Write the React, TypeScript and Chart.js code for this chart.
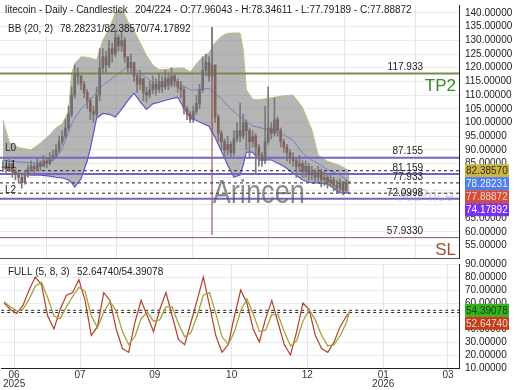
import React, { useEffect, useRef } from "react";
import { Chart, registerables } from "chart.js";

Chart.register(...registerables);

const FONT = '"Liberation Sans", Arial, sans-serif';

// ---- candles (2-day steps) ----
const firstOpen = 83.5;
const closes = [
  84, 83, 85, 82, 81, 80, 78, 81, 83, 84,
  83, 85, 84, 86, 85, 87, 88, 90, 93, 95,
  98, 103, 110, 118, 117, 114, 111, 108, 104, 103,
  110, 120, 124, 121, 127, 125, 131, 128, 130, 124,
  120, 122, 117, 114, 116, 111, 110, 112, 114, 112,
  115, 113, 116, 114, 117, 115, 113, 112, 105, 103,
  101, 104, 107, 112, 119, 122, 117, 121, 102, 96,
  93, 90, 92, 89, 94, 97, 95, 100, 97, 93,
  95, 91, 88, 86, 93, 98, 96, 101, 97, 93,
  91, 89, 87, 86, 84, 85, 82, 84, 81, 82,
  80, 82, 79, 80, 78, 79, 77, 76, 78, 75,
  77.96, 77.89,
];
const highs = [
  86, 85, 86.5, 85, 83, 82, 81, 82.5, 84.5, 86,
  85, 87, 86, 88, 87, 89, 90, 92, 95, 97,
  101, 106, 113, 121, 120, 117, 115, 112, 109, 106,
  113, 127, 127, 126, 130, 129, 134, 132, 133, 131,
  124, 125, 122, 118, 119, 116, 113, 115, 117, 116,
  118, 117, 119, 118, 120, 118, 116, 115, 113, 106,
  104, 106, 110, 114, 124, 125, 124, 134.5, 121, 103,
  97, 94, 95, 93, 97, 100, 107, 103, 101, 98,
  97, 96, 92, 89, 106, 113, 100, 109, 102, 98,
  94, 92, 90, 89, 87, 88, 86, 86, 85, 84,
  83, 84, 83, 82, 81, 81, 80, 79, 79.5, 78.5,
  79, 78.35,
];
const lows = [
  82, 81, 82, 80, 79, 78, 76, 77.5, 80, 82,
  81.5, 82.5, 82.5, 84, 83.5, 84.5, 86, 87.5, 89, 92,
  94, 97, 102, 109, 114, 112, 109, 105, 101, 100,
  102, 108, 118, 118, 120, 122, 124, 126, 126, 122,
  118, 118, 115, 111, 112, 108, 107.5, 109, 110.5, 110,
  111, 111, 112, 112, 113, 113, 111, 109, 103, 101,
  100, 100, 103, 105, 111, 117, 115, 116, 100, 93,
  90, 87, 88, 87, 88, 93, 93, 94, 90, 87,
  91, 81, 84, 84, 85, 92, 94, 95, 95, 91,
  89, 86, 85, 84, 80, 82, 80, 80, 79, 79,
  78, 78.5, 76.5, 77, 76, 76.5, 75, 74, 75, 73.5,
  75, 77.79,
];

// ---- Bollinger bands ----
const bbX = [0, 2, 5, 9, 12, 15, 17, 19, 21, 22, 23, 25, 27, 28, 30, 32, 34, 36, 38, 40, 42, 44, 46, 48, 50, 53, 56, 58, 60, 63, 66, 68, 70, 72, 74, 76, 77, 78, 80, 82, 86, 90, 93, 96, 99, 101, 104, 108, 111];
const bbUpper = [100.9, 92.8, 90.8, 90.0, 92.5, 95.5, 98.0, 99.5, 104.0, 118.0, 121.5, 124.0, 123.8, 123.6, 122.8, 130.0, 134.3, 140.0, 141.8, 137.0, 133.5, 129.0, 124.5, 121.0, 119.3, 119.5, 119.9, 119.9, 118.4, 122.8, 125.5, 129.2, 131.5, 132.6, 132.7, 132.7, 126.5, 112.0, 108.5, 108.3, 109.0, 109.8, 110.0, 105.5, 97.3, 88.1, 85.8, 84.3, 82.39];
const bbMid = [86.3, 85.9, 85.6, 85.3, 85.2, 85.6, 87.0, 90.5, 96.5, 99.5, 101.5, 105.0, 107.2, 108.4, 111.0, 113.6, 115.3, 117.0, 118.8, 120.2, 119.8, 118.0, 116.2, 114.8, 113.1, 113.6, 114.3, 113.2, 111.9, 111.9, 112.5, 110.5, 108.8, 106.0, 104.0, 102.0, 101.2, 100.3, 98.8, 98.2, 97.2, 95.5, 93.5, 88.8, 86.2, 85.0, 82.8, 80.8, 78.28];
const bbLower = [83.7, 82.6, 81.0, 80.8, 80.8, 80.4, 80.0, 79.8, 79.0, 78.0, 76.4, 79.5, 86.0, 90.5, 101.5, 103.3, 103.0, 102.0, 104.8, 108.0, 110.7, 107.5, 104.8, 106.8, 107.4, 108.4, 109.2, 105.2, 101.8, 100.2, 98.6, 94.5, 89.5, 84.5, 80.1, 80.8, 84.5, 89.2, 89.2, 86.3, 86.3, 84.0, 81.5, 79.0, 77.9, 77.9, 77.5, 74.4, 74.18];

// ---- Stochastic (FULL 5,8,3) ----
const stochX = [0, 2, 4, 6, 8, 10, 12, 14, 16, 18, 20, 22, 24, 26, 28, 30, 32, 34, 36, 38, 40, 42, 44, 46, 48, 50, 52, 54, 56, 58, 60, 62, 64, 66, 68, 70, 72, 74, 76, 78, 80, 82, 84, 86, 88, 90, 92, 94, 96, 98, 100, 102, 104, 106, 108, 110, 111];
const stochK = [60, 55, 52, 58, 70, 80, 74, 50, 40, 55, 66, 68, 78, 62, 35, 42, 68, 62, 40, 25, 22, 45, 62, 50, 38, 55, 68, 50, 32, 28, 45, 62, 80, 58, 35, 22, 28, 50, 70, 60, 40, 30, 48, 62, 45, 28, 20, 38, 60, 55, 35, 25, 22, 30, 42, 50, 52.65];
const stochD = [61, 57, 54, 55, 63, 73, 76, 64, 50, 48, 57, 65, 72, 69, 50, 41, 53, 61, 54, 38, 28, 34, 48, 53, 46, 47, 57, 57, 44, 34, 37, 50, 66, 68, 52, 34, 28, 38, 54, 63, 52, 38, 39, 51, 51, 38, 27, 31, 46, 55, 47, 35, 27, 28, 35, 45, 54.39];

// ---- axes ----
const X_MIN = -0.96;
const X_MAX = 146.15;
const xTickPos = [3.2, 24.4, 48.4, 73.1, 97.4, 121.8, 142.6];
const xTickLabels = [["06", "2025"], ["07"], ["09"], ["10"], ["12"], ["01", "2026"], ["03"]];
const yTicksMain = [140, 135, 130, 125, 120, 115, 110, 105, 100, 95, 90, 85, 80, 75, 70, 65, 60, 55];
const yTicksStoch = [90, 80, 70, 60, 50, 40, 30, 20, 10];

// ---- levels ----
const levelValues = [117.933, 87.155, 81.159, 77.933, 72.0998, 57.933];
const levelLabels = ["117.933", "87.155", "81.159", "77.933", "72.0998", "57.9330"];
const levelNames = ["", "L0", "L1", "", "L2", ""];
const levelColors = ["#7d8a4e", "#7464c4", "#7464c4", "", "#7464c4", "#8c5a5a"];
const dashedMain = [82.3857, 77.933, 74.17892];
const markerIndex = 67;
const markerRange = [58.9, 135];

const priceTags = [82.3857, 78.28231, 77.88872, 74.17892];
const priceTagText = ["82.38570", "78.28231", "77.88872", "74.17892"];
const priceTagBg = ["#c9b44a", "#4d7ef0", "#d24d3c", "#7a30f0"];
const priceTagFg = ["#3a3010", "#e8f0ff", "#f6d0cc", "#ffffff"];
const stochTags = [54.39078, 52.6474];
const stochTagText = ["54.39078", "52.64740"];
const stochTagBg = ["#34b41e", "#c2401e"];
const stochTagFg = ["#16380c", "#f8d4c4"];

const titleA = "litecoin - Daily - Candlestick";
const titleB = "204/224 - O:77.96043 - H:78.34611 - L:77.79189 - C:77.88872";
const bbTextA = "BB (20, 2)";
const bbTextB = "78.28231/82.38570/74.17892";
const stTextA = "FULL (5, 8, 3)";
const stTextB = "52.64740/54.39078";

function drawTags(ctx: CanvasRenderingContext2D, chart: any, values: number[], texts: string[], bg: string[], fg: string[]) {
  const y = chart.scales.y;
  const x0 = chart.chartArea.right + 6;
  let prev = -1e9;
  ctx.font = "10px " + FONT;
  ctx.textBaseline = "middle";
  ctx.textAlign = "left";
  values.forEach((v, i) => {
    let cy = y.getPixelForValue(v);
    if (cy < prev + 13) cy = prev + 13;
    prev = cy;
    ctx.fillStyle = bg[i];
    ctx.fillRect(x0, cy - 6.5, 44, 13);
    ctx.fillStyle = fg[i];
    ctx.fillText(texts[i], x0 + 1, cy + 0.5);
  });
}

const yAxisCommon = {
  position: "right",
  afterFit: (s: any) => { s.width = 61; },
  ticks: {
    autoSkip: false,
    font: { size: 10, family: FONT, lineHeight: 1 }, color: "#222", padding: 0,
    callback: (v: any) => Number(v).toFixed(5),
  },
  grid: { color: "#ebebeb", drawTicks: true, tickLength: 6, tickColor: "rgba(0,0,0,0)" },
  border: { display: true, color: "#222" },
};

export default function App() {
  const mainRef = useRef<HTMLCanvasElement>(null);
  const stochRef = useRef<HTMLCanvasElement>(null);

  useEffect(() => {
    const opens = closes.map((c, i) => (i === 0 ? firstOpen : closes[i - 1]));
    const bodyColors = closes.map((c, i) => (c >= opens[i] ? "#6e6e6e" : "#86605c"));
    const pts = (xs: number[], ys: number[]) => xs.map((x, i) => ({ x, y: ys[i] }));
    const hLine = (v: number) => [{ x: X_MIN, y: v }, { x: X_MAX, y: v }];

    const levelSets: any[] = [];
    levelValues.forEach((v, i) => {
      if (!levelColors[i]) return;
      levelSets.push({
        type: "line", data: hLine(v), borderColor: levelColors[i],
        borderWidth: i === 5 ? 1 : 2, pointRadius: 0, fill: false, order: 3,
      });
    });
    dashedMain.forEach((v) => {
      levelSets.push({
        type: "line", data: hLine(v), borderColor: "#222", borderWidth: 1,
        borderDash: [3, 3], pointRadius: 0, fill: false, order: 3,
      });
    });

    const mainPlugin = {
      id: "mainText",
      afterDatasetsDraw(chart: any) {
        const { ctx } = chart;
        ctx.save();
        ctx.font = "34px " + FONT;
        ctx.fillStyle = "rgba(95,95,95,0.72)";
        ctx.textBaseline = "alphabetic";
        ctx.textAlign = "left";
        ctx.translate(chart.scales.x.getPixelForValue(67.2), 203);
        ctx.scale(0.8, 1);
        ctx.fillText("Arincen", 0, 0);
        ctx.restore();
        ctx.save();
        ctx.font = "16px " + FONT;
        ctx.fillStyle = "rgba(150,160,190,0.45)";
        ctx.textAlign = "right";
        ctx.textBaseline = "alphabetic";
        ctx.fillText("AltPrice", chart.chartArea.right - 5, 201);
        ctx.restore();
      },
      afterDraw(chart: any) {
        const { ctx, chartArea } = chart;
        const y = chart.scales.y;
        ctx.save();
        ctx.font = "10px " + FONT;
        ctx.fillStyle = "#222";
        ctx.textBaseline = "middle";
        ctx.textAlign = "left";
        ctx.fillText(titleA, 5, 10);
        ctx.fillText(titleB, 135, 10);
        ctx.fillText(bbTextA, 8, 29);
        ctx.fillText(bbTextB, 60, 29);

        levelValues.forEach((v, i) => {
          const py = y.getPixelForValue(v);
          ctx.font = "10px " + FONT;
          ctx.fillStyle = "#222";
          ctx.textAlign = "right";
          ctx.fillText(levelLabels[i], chartArea.right - 36, py - 6);
          if (levelNames[i]) {
            ctx.textAlign = "left";
            ctx.fillText(levelNames[i], 5, py - 9);
          }
        });
        ctx.font = "17px " + FONT;
        ctx.textAlign = "right";
        ctx.fillStyle = "#3a8a2a";
        ctx.fillText("TP2", chartArea.right - 3, y.getPixelForValue(levelValues[0]) + 13);
        ctx.fillStyle = "#a0503a";
        ctx.fillText("SL", chartArea.right - 3, y.getPixelForValue(levelValues[5]) + 13);

        drawTags(ctx, chart, priceTags, priceTagText, priceTagBg, priceTagFg);
        ctx.restore();
      },
    };

    const main = new Chart(mainRef.current as HTMLCanvasElement, {
      type: "bar",
      data: {
        datasets: [
          {
            type: "bar", data: closes.map((c, i) => ({ x: i, y: [opens[i], c] })) as any,
            backgroundColor: bodyColors, barThickness: 2, grouped: false, minBarLength: 1, order: 1,
          },
          {
            type: "bar", data: closes.map((c, i) => ({ x: i, y: [lows[i], highs[i]] })) as any,
            backgroundColor: "#7a7a7a", barThickness: 1, grouped: false, order: 2,
          },
          {
            type: "line", data: pts(bbX, bbUpper), borderColor: "#c4bc78", borderWidth: 1,
            pointRadius: 0, fill: "+1", backgroundColor: "rgba(120,120,120,0.55)", order: 11,
          },
          {
            type: "line", data: pts(bbX, bbLower), borderColor: "#6a4fd0", borderWidth: 1.2,
            pointRadius: 0, fill: false, order: 10,
          },
          {
            type: "line", data: pts(bbX, bbMid), borderColor: "#6f7fd0", borderWidth: 1,
            pointRadius: 0, fill: false, order: 9,
          },
          ...levelSets,
          {
            type: "line", data: [{ x: markerIndex, y: markerRange[0] }, { x: markerIndex, y: markerRange[1] }],
            borderColor: "#8b3a3a", borderWidth: 1, pointRadius: 0, fill: false, order: 4,
          },
        ] as any,
      },
      options: {
        responsive: false,
        animation: false,
        devicePixelRatio: 1,
        events: [],
        layout: { padding: 0 },
        plugins: { legend: { display: false }, tooltip: { enabled: false } },
        scales: {
          x: {
            type: "linear", min: X_MIN, max: X_MAX, offset: false,
            afterBuildTicks: (s: any) => { s.ticks = xTickPos.map((v) => ({ value: v })); },
            afterFit: (s: any) => { s.height = 0; },
            ticks: { display: false },
            grid: { color: "#e6e6e6", drawTicks: false },
            border: { display: true, color: "#555" },
          },
          y: {
            ...yAxisCommon,
            min: 50.5, max: 142.92,
            afterBuildTicks: (s: any) => { s.ticks = yTicksMain.map((v) => ({ value: v })); },
          },
        },
      } as any,
      plugins: [mainPlugin],
    });

    const stochPlugin = {
      id: "stochText",
      afterDraw(chart: any) {
        const { ctx } = chart;
        ctx.save();
        ctx.font = "10px " + FONT;
        ctx.fillStyle = "#222";
        ctx.textBaseline = "middle";
        ctx.textAlign = "left";
        ctx.fillText(stTextA, 8, 13);
        ctx.fillText(stTextB, 77, 13);
        drawTags(ctx, chart, stochTags, stochTagText, stochTagBg, stochTagFg);
        ctx.restore();
      },
    };

    const stoch = new Chart(stochRef.current as HTMLCanvasElement, {
      type: "line",
      data: {
        datasets: [
          { data: pts(stochX, stochD), borderColor: "#a8a03a", borderWidth: 1.3, pointRadius: 0, fill: false },
          { data: pts(stochX, stochK), borderColor: "#b0402c", borderWidth: 1.2, pointRadius: 0, fill: false },
          { data: hLine(stochTags[0]), borderColor: "#222", borderWidth: 1, borderDash: [3, 3], pointRadius: 0, fill: false },
          { data: hLine(stochTags[1]), borderColor: "#222", borderWidth: 1, borderDash: [3, 3], pointRadius: 0, fill: false },
        ] as any,
      },
      options: {
        responsive: false,
        animation: false,
        devicePixelRatio: 1,
        events: [],
        layout: { padding: 0 },
        plugins: { legend: { display: false }, tooltip: { enabled: false } },
        scales: {
          x: {
            type: "linear", min: X_MIN, max: X_MAX, offset: false,
            afterBuildTicks: (s: any) => { s.ticks = xTickPos.map((v) => ({ value: v })); },
            afterFit: (s: any) => { s.height = 22; },
            ticks: {
              autoSkip: false, maxRotation: 0, padding: 3, color: "#333",
              font: { size: 10, family: FONT, lineHeight: 0.85 },
              callback: (_v: any, idx: number) => xTickLabels[idx],
            },
            grid: { color: "#e6e6e6", drawTicks: false },
            border: { display: true, color: "#222" },
          },
          y: {
            ...yAxisCommon,
            min: 10, max: 90,
            afterBuildTicks: (s: any) => { s.ticks = yTicksStoch.map((v) => ({ value: v })); },
          },
        },
      } as any,
      plugins: [stochPlugin],
    });

    return () => {
      main.destroy();
      stoch.destroy();
    };
  }, []);

  return (
    <div style={{ position: "absolute", left: 0, top: 0, width: 520, height: 390, background: "#fff", overflow: "hidden" }}>
      <canvas ref={mainRef} width={520} height={263} style={{ position: "absolute", left: 0, top: 0, width: 520, height: 263 }} />
      <canvas ref={stochRef} width={520} height={131} style={{ position: "absolute", left: 0, top: 259, width: 520, height: 131 }} />
    </div>
  );
}
